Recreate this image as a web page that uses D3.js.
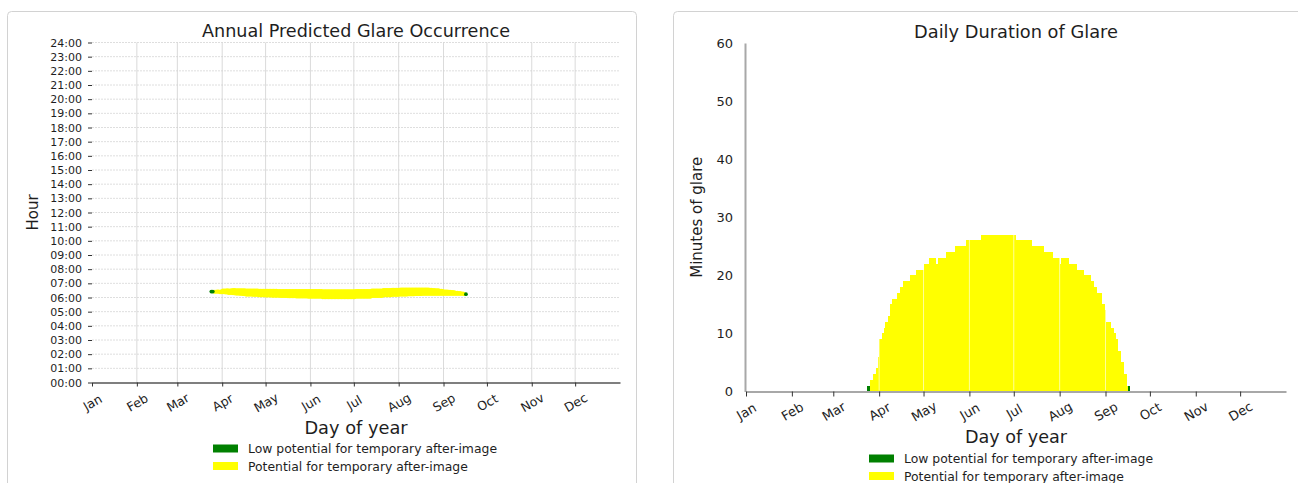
<!DOCTYPE html>
<html>
<head>
<meta charset="utf-8">
<script src="https://cdn.jsdelivr.net/npm/d3@7"></script>
<style>
  html, body { margin: 0; padding: 0; background: #fff; }
  svg { display: block; font-family: "DejaVu Sans", sans-serif; }
</style>
</head>
<body>
<svg id="chart" width="1298" height="483"></svg>
<script>
// ---- data ---------------------------------------------------------------
const months = ["Jan", "Feb", "Mar", "Apr", "May", "Jun", "Jul", "Aug", "Sep", "Oct", "Nov", "Dec"];
const monthStartDay = [0, 31, 59, 90, 120, 151, 181, 212, 243, 273, 304, 334];
const hourTicks = [0, 1, 2, 3, 4, 5, 6, 7, 8, 9, 10, 11, 12, 13, 14, 15, 16, 17, 18, 19, 20, 21, 22, 23, 24];
const minuteTicks = [0, 10, 20, 30, 40, 50, 60];

// glare runs: [first day, last day, minutes of glare per day, glare start (HH:MM), level]
const glareRuns = [
  [83, 84, 1, "06:25", "low"],
  [85, 86, 2, "06:24", "high"],
  [87, 88, 3, "06:24", "high"],
  [89, 89, 4, "06:22", "high"],
  [90, 90, 6, "06:22", "high"],
  [91, 92, 9, "06:22", "high"],
  [93, 93, 10, "06:21", "high"],
  [94, 94, 11, "06:21", "high"],
  [95, 96, 12, "06:19", "high"],
  [97, 97, 13, "06:19", "high"],
  [98, 99, 15, "06:18", "high"],
  [100, 102, 16, "06:16", "high"],
  [103, 104, 17, "06:15", "high"],
  [105, 106, 18, "06:14", "high"],
  [107, 111, 19, "06:12", "high"],
  [112, 115, 20, "06:11", "high"],
  [116, 120, 21, "06:09", "high"],
  [121, 124, 22, "06:08", "high"],
  [125, 128, 23, "06:07", "high"],
  [129, 130, 22, "06:07", "high"],
  [131, 135, 23, "06:06", "high"],
  [136, 141, 24, "06:05", "high"],
  [142, 149, 25, "06:04", "high"],
  [150, 159, 26, "06:03", "high"],
  [160, 182, 27, "06:01", "high"],
  [183, 193, 26, "06:03", "high"],
  [194, 201, 25, "06:06", "high"],
  [202, 207, 24, "06:09", "high"],
  [208, 212, 23, "06:11", "high"],
  [213, 213, 22, "06:12", "high"],
  [214, 218, 23, "06:12", "high"],
  [219, 223, 22, "06:13", "high"],
  [224, 228, 21, "06:14", "high"],
  [229, 233, 20, "06:15", "high"],
  [234, 235, 19, "06:15", "high"],
  [236, 237, 18, "06:15", "high"],
  [238, 240, 17, "06:15", "high"],
  [241, 242, 15, "06:15", "high"],
  [243, 243, 14, "06:15", "high"],
  [244, 246, 12, "06:15", "high"],
  [247, 248, 11, "06:15", "high"],
  [249, 250, 10, "06:15", "high"],
  [251, 251, 9, "06:15", "high"],
  [252, 253, 7, "06:15", "high"],
  [254, 255, 5, "06:15", "high"],
  [256, 257, 3, "06:15", "high"],
  [258, 258, 1, "06:14", "high"],
  [259, 259, 1, "06:14", "low"]
];

const legendItems = [
  { level: "low", label: "Low potential for temporary after-image" },
  { level: "high", label: "Potential for temporary after-image" }
];
const levelColor = { low: "#008000", high: "#ffff00" };

// expand runs into one record per day
const days = [];
glareRuns.forEach(([first, last, minutes, start, level]) => {
  const [hh, mm] = start.split(":").map(Number);
  for (let d = first; d <= last; d++) {
    days.push({ day: d, minutes, startHour: hh + mm / 60, level });
  }
});

const svg = d3.select("#chart");
const textColor = "#1e1e1e";

// ---- panel frames -------------------------------------------------------
svg.append("rect").attr("x", 7.5).attr("y", 11.5).attr("width", 629).attr("height", 500)
  .attr("rx", 4).attr("fill", "none").attr("stroke", "#d2d2d2");
svg.append("rect").attr("x", 673.5).attr("y", 11.5).attr("width", 660).attr("height", 500)
  .attr("rx", 4).attr("fill", "none").attr("stroke", "#d2d2d2");

function styleMonthLabels(axisG, offset, size) {
  axisG.selectAll(".tick text")
    .attr("y", 0).attr("dy", null)
    .attr("dominant-baseline", "central")
    .attr("text-anchor", "middle")
    .attr("transform", `translate(0,${offset}) rotate(-30)`)
    .attr("font-size", size)
    .attr("font-family", "DejaVu Sans")
    .attr("fill", textColor);
}

function drawLegend(x, y, gap) {
  const g = svg.append("g");
  legendItems.forEach((item, i) => {
    g.append("rect").attr("x", x).attr("y", y + i * gap - 4)
      .attr("width", 25).attr("height", 8).attr("fill", levelColor[item.level]);
    g.append("text").attr("x", x + 35).attr("y", y + i * gap)
      .attr("dominant-baseline", "central").attr("font-size", 12.4)
      .attr("fill", textColor).text(item.label);
  });
}

// ---- left: annual predicted glare occurrence ---------------------------
{
  const x = d3.scaleLinear().domain([0, 365]).range([92, 620]);
  const y = d3.scaleLinear().domain([0, 24]).range([382.5, 42.5]);
  const g = svg.append("g");

  // grid
  g.append("g").selectAll("line").data(hourTicks.filter(h => h > 0)).join("line")
    .attr("x1", x(0)).attr("x2", x(365)).attr("y1", d => y(d)).attr("y2", d => y(d))
    .attr("stroke", "#d6d6d6").attr("stroke-width", 0.8).attr("stroke-dasharray", "2,1");
  g.append("g").selectAll("line").data(monthStartDay.slice(1)).join("line")
    .attr("x1", d => x(d)).attr("x2", d => x(d)).attr("y1", y(24)).attr("y2", y(0))
    .attr("stroke", "#d0d0d0").attr("stroke-width", 0.8);

  // glare minutes per day: markers from start to last glare minute
  const r = 1.9;
  const dayMarks = (sel) => sel
    .attr("x", d => x(d.day - 0.5) - r)
    .attr("width", 2 * r)
    .attr("y", d => y(d.startHour + (d.minutes - 1) / 60) - r)
    .attr("height", d => y(d.startHour) - y(d.startHour + (d.minutes - 1) / 60) + 2 * r)
    .attr("rx", r).attr("ry", r);
  g.append("g").selectAll("rect").data(days.filter(d => d.level === "high")).join("rect")
    .call(dayMarks).attr("fill", levelColor.high);
  g.append("g").selectAll("rect").data(days.filter(d => d.level === "low")).join("rect")
    .call(dayMarks).attr("fill", levelColor.low);

  // axes
  const ya = g.append("g").attr("transform", `translate(${x(0)},0)`)
    .call(d3.axisLeft(y).tickValues(hourTicks)
      .tickFormat(h => String(h).padStart(2, "0") + ":00")
      .tickSize(4).tickPadding(6));
  ya.select(".domain").remove();
  ya.selectAll(".tick line").attr("stroke", "#333");
  ya.selectAll(".tick text").attr("font-size", 11).attr("fill", textColor)
    .attr("font-family", "DejaVu Sans");

  const xa = g.append("g").attr("transform", `translate(0,${y(0)})`)
    .call(d3.axisBottom(x).tickValues(monthStartDay)
      .tickFormat((d, i) => months[i]).tickSize(4).tickSizeOuter(0));
  xa.select(".domain").attr("stroke", "#555").attr("stroke-width", 1.5);
  xa.selectAll(".tick line").attr("stroke", "#333");
  styleMonthLabels(xa, 20, 12.5);

  g.append("text").attr("x", (x(0) + x(365)) / 2).attr("y", 31)
    .attr("text-anchor", "middle").attr("dominant-baseline", "central")
    .attr("font-size", 17.6).attr("fill", textColor).text("Annual Predicted Glare Occurrence");
  g.append("text").attr("x", (x(0) + x(365)) / 2).attr("y", 427)
    .attr("text-anchor", "middle").attr("dominant-baseline", "central")
    .attr("font-size", 17.8).attr("fill", textColor).text("Day of year");
  g.append("text").attr("transform", `translate(33,${(y(0) + y(24)) / 2}) rotate(-90)`)
    .attr("text-anchor", "middle").attr("dominant-baseline", "central")
    .attr("font-size", 15).attr("fill", textColor).text("Hour");

  drawLegend(213, 448.5, 17.5);
}

// ---- right: daily duration of glare ------------------------------------
{
  const x = d3.scaleLinear().domain([0, 365]).range([746, 1286]);
  const y = d3.scaleLinear().domain([0, 60]).range([391.5, 43]);
  const g = svg.append("g");

  g.append("g").attr("shape-rendering", "crispEdges")
    .selectAll("rect").data(days).join("rect")
    .attr("x", d => x(d.day - 1))
    .attr("width", d => x(d.day) - x(d.day - 1) + 0.6)
    .attr("y", d => y(d.minutes))
    .attr("height", d => y(0) - y(d.minutes))
    .attr("fill", d => levelColor[d.level]);

  // thin light separators at month boundaries
  g.append("g").selectAll("line").data(monthStartDay.slice(1)).join("line")
    .attr("x1", d => x(d)).attr("x2", d => x(d)).attr("y1", y(60)).attr("y2", y(0) - 1)
    .attr("stroke", "#fff").attr("stroke-opacity", 0.75).attr("stroke-width", 0.8);

  const ya = g.append("g").attr("transform", `translate(${x(0) - 1},0)`)
    .call(d3.axisLeft(y).tickValues(minuteTicks).tickSize(0).tickPadding(12).tickSizeOuter(0));
  ya.select(".domain").attr("stroke", "#a8a8a8").attr("stroke-width", 2);
  ya.selectAll(".tick text").attr("font-size", 13).attr("fill", textColor)
    .attr("font-family", "DejaVu Sans");

  const xa = g.append("g").attr("transform", `translate(0,${y(0)})`)
    .call(d3.axisBottom(x).tickValues(monthStartDay)
      .tickFormat((d, i) => months[i]).tickSize(5).tickSizeOuter(0));
  xa.select(".domain").attr("stroke", "#a8a8a8").attr("stroke-width", 2);
  xa.selectAll(".tick line").attr("stroke", "#333");
  styleMonthLabels(xa, 20, 13);

  g.append("text").attr("x", (x(0) + x(365)) / 2).attr("y", 31)
    .attr("text-anchor", "middle").attr("dominant-baseline", "central")
    .attr("font-size", 17.8).attr("fill", textColor).text("Daily Duration of Glare");
  g.append("text").attr("x", (x(0) + x(365)) / 2).attr("y", 437)
    .attr("text-anchor", "middle").attr("dominant-baseline", "central")
    .attr("font-size", 17.6).attr("fill", textColor).text("Day of year");
  g.append("text").attr("transform", `translate(697,${(y(0) + y(60)) / 2}) rotate(-90)`)
    .attr("text-anchor", "middle").attr("dominant-baseline", "central")
    .attr("font-size", 15).attr("fill", textColor).text("Minutes of glare");

  drawLegend(869, 458.5, 17.5);
}
</script>
</body>
</html>
